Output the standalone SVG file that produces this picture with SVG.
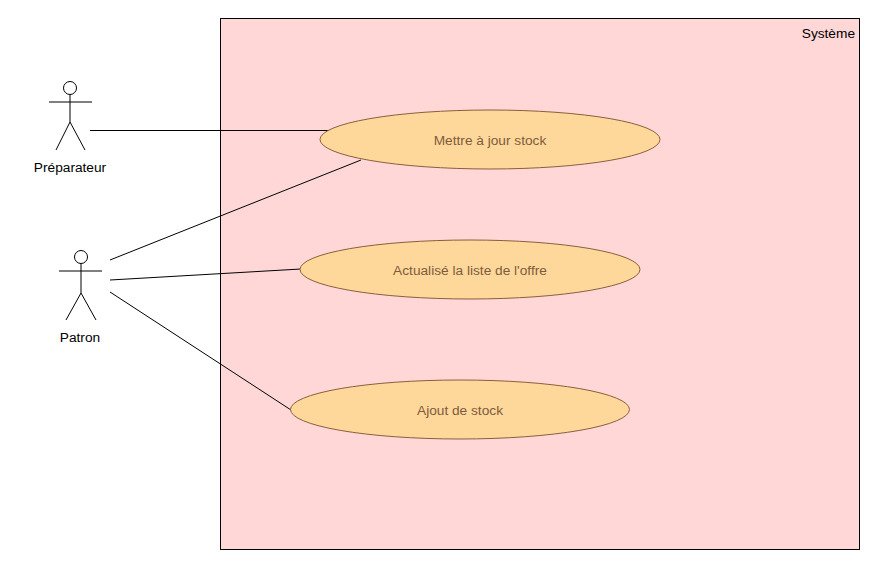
<svg xmlns="http://www.w3.org/2000/svg" width="880" height="570" viewBox="0 0 880 570">
<style>
.uc{fill:#fed89a;stroke:#8a5f3c;stroke-width:1}
.uct{font-family:"Liberation Sans",Arial,sans-serif;font-size:13.7px;fill:#7f5a3c;text-anchor:middle}
.act{fill:none;stroke:#000;stroke-width:1}
.lbl{font-family:"Liberation Sans",Arial,sans-serif;font-size:13.7px;fill:#000;text-anchor:middle}
.con{stroke:#000;stroke-width:1;fill:none}
</style>
<rect width="880" height="570" fill="#ffffff"/>
<g id="system">
<rect x="220.5" y="18.5" width="639" height="531" fill="#ffd7d7" stroke="#000" stroke-width="1"/>
<text x="855" y="38" font-family="Liberation Sans,Arial,sans-serif" font-size="13.7" text-anchor="end" fill="#000">Système</text>
</g>
<g id="connectors">
<line class="con" x1="90" y1="130.5" x2="331" y2="130.5"/>
<line class="con" x1="110" y1="260" x2="361" y2="160"/>
<line class="con" x1="110" y1="280" x2="301" y2="269"/>
<line class="con" x1="110" y1="292" x2="291" y2="410"/>
</g>
<g id="preparateur">
<circle class="act" cx="70" cy="88" r="6.5"/>
<line class="act" x1="70" y1="94.5" x2="70" y2="122"/>
<line class="act" x1="49" y1="102" x2="92" y2="102"/>
<line class="act" x1="70" y1="122" x2="56" y2="150"/>
<line class="act" x1="70" y1="122" x2="85" y2="150"/>
<text class="lbl" x="70" y="172">Préparateur</text>
</g>
<g id="patron">
<circle class="act" cx="81" cy="257" r="6.5"/>
<line class="act" x1="81" y1="263.5" x2="81" y2="293"/>
<line class="act" x1="59" y1="271" x2="102" y2="271"/>
<line class="act" x1="81" y1="293" x2="66" y2="320"/>
<line class="act" x1="81" y1="293" x2="96" y2="320"/>
<text class="lbl" x="80" y="342">Patron</text>
</g>
<g id="uc-mettre">
<ellipse class="uc" cx="490" cy="139.5" rx="170" ry="29.5"/>
<text class="uct" x="490" y="144.5">Mettre à jour stock</text>
</g>
<g id="uc-actualise">
<ellipse class="uc" cx="470" cy="269.5" rx="170" ry="29.5"/>
<text class="uct" x="470" y="274.5">Actualisé la liste de l'offre</text>
</g>
<g id="uc-ajout">
<ellipse class="uc" cx="460" cy="409.5" rx="169.5" ry="29.5"/>
<text class="uct" x="460" y="414.5">Ajout de stock</text>
</g>
</svg>
